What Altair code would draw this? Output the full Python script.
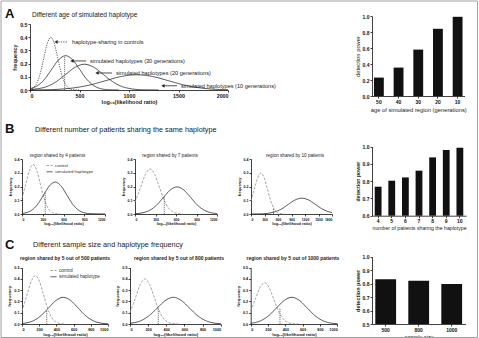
import altair as alt
import pandas as pd

FONT = "Liberation Sans"
W, H = 479, 338

# ---------------- Panel A: age of the simulated haplotype ----------------
a_ctrl_x = [0, 35, 70, 105, 140, 175, 210, 245, 280, 315, 350, 385, 420, 500]
a_ctrl_y = [0.004, 0.018, 0.054, 0.130, 0.243, 0.353, 0.400, 0.353, 0.243, 0.130, 0.054, 0.018, 0.004, 0.0]
a_g30_x = [0, 80, 150, 220, 290, 360, 430, 500, 570, 640, 710, 780, 900]
a_g30_y = [0.010, 0.035, 0.084, 0.158, 0.229, 0.260, 0.229, 0.158, 0.084, 0.035, 0.011, 0.003, 0.0]
a_g20_x = [0, 170, 265, 360, 455, 550, 645, 740, 835, 930, 1025, 1120, 1300]
a_g20_y = [0.003, 0.026, 0.063, 0.118, 0.172, 0.195, 0.172, 0.118, 0.063, 0.026, 0.009, 0.002, 0.0]
a_g10_x = [0, 120, 280, 440, 600, 760, 920, 1080, 1240, 1400, 1560, 1720, 1880, 2000]
a_g10_y = [0.000, 0.001, 0.005, 0.016, 0.037, 0.070, 0.102, 0.115, 0.102, 0.070, 0.037, 0.016, 0.005, 0.002]
a_cut = (350, 0.255)

a_note_text = ["haplotype-sharing in controls",
               "simulated haplotypes (30 generations)",
               "simulated haplotypes (20 generations)",
               "simulated haplotypes (10 generations)"]
a_note_head = [263, 424, 677, 1343]
a_note_tail = [384, 566, 828, 1485]
a_note_y = [0.364, 0.220, 0.129, 0.032]

a_age = ["50", "40", "30", "20", "10"]
a_power = [0.23, 0.355, 0.58, 0.84, 0.99]

# ---------------- Panel B: number of patients sharing ----------------
b1_ctrl_x = [0, 55, 107.5, 160, 212.5, 265, 317.5, 370, 422.5, 475, 550]
b1_ctrl_y = [0.113, 0.218, 0.318, 0.360, 0.318, 0.218, 0.117, 0.049, 0.016, 0.004, 0.0]
b1_sim_x = [0, 150, 232.5, 315, 397.5, 480, 562.5, 645, 727.5, 810, 892.5, 975, 1200]
b1_sim_y = [0.003, 0.031, 0.075, 0.141, 0.205, 0.232, 0.205, 0.141, 0.075, 0.031, 0.010, 0.003, 0.0]
b1_cut = (336, 0.158)

b2_ctrl_x = [0, 85, 152.5, 220, 287.5, 355, 422.5, 490, 557.5, 625, 700]
b2_ctrl_y = [0.087, 0.198, 0.289, 0.327, 0.289, 0.198, 0.106, 0.044, 0.014, 0.004, 0.0]
b2_sim_x = [0, 115, 215, 315, 415, 515, 615, 715, 815, 915, 1015, 1115, 1200]
b2_sim_y = [0.002, 0.009, 0.027, 0.064, 0.120, 0.174, 0.197, 0.174, 0.120, 0.064, 0.027, 0.009, 0.003]
b2_cut = (428, 0.127)

b3_ctrl_x = [0, 75, 147.5, 220, 292.5, 365, 437.5, 510, 582.5, 655, 750]
b3_ctrl_y = [0.094, 0.181, 0.263, 0.298, 0.263, 0.181, 0.097, 0.040, 0.013, 0.003, 0.0]
b3_sim_x = [0, 230, 380, 530, 680, 830, 980, 1130, 1280, 1430, 1580, 1730, 1800]
b3_sim_y = [0.000, 0.001, 0.005, 0.016, 0.037, 0.070, 0.102, 0.115, 0.102, 0.070, 0.037, 0.016, 0.010]
b3_cut = (500, 0.045)

b_patients = ["4", "5", "6", "7", "8", "9", "10"]
b_power = [0.768, 0.803, 0.822, 0.861, 0.938, 0.981, 0.994]

# ---------------- Panel C: sample size ----------------
c1_ctrl_x = [0, 60, 107.5, 155, 202.5, 250, 297.5, 345, 392.5, 440, 500]
c1_ctrl_y = [0.114, 0.261, 0.379, 0.430, 0.379, 0.261, 0.140, 0.058, 0.019, 0.005, 0.0]
c1_sim_x = [0, 140, 225, 310, 395, 480, 565, 650, 735, 820, 905, 1000]
c1_sim_y = [0.004, 0.032, 0.077, 0.144, 0.209, 0.237, 0.209, 0.144, 0.077, 0.032, 0.010, 0.002]
c1_cut = (288, 0.125)

c2_ctrl_x = [0, 65, 115, 165, 215, 265, 315, 365, 415, 465, 550]
c2_ctrl_y = [0.103, 0.243, 0.353, 0.400, 0.353, 0.243, 0.130, 0.054, 0.018, 0.004, 0.0]
c2_sim_x = [0, 128, 215.5, 303, 390.5, 478, 565.5, 653, 740.5, 828, 915.5, 1000]
c2_sim_y = [0.006, 0.032, 0.077, 0.144, 0.209, 0.237, 0.209, 0.144, 0.077, 0.032, 0.010, 0.003]
c2_cut = (312, 0.145)

c3_ctrl_x = [0, 55, 107.5, 160, 212.5, 265, 317.5, 370, 422.5, 475, 550]
c3_ctrl_y = [0.116, 0.223, 0.324, 0.367, 0.324, 0.223, 0.119, 0.050, 0.016, 0.004, 0.0]
c3_sim_x = [0, 125, 212.5, 300, 387.5, 475, 562.5, 650, 737.5, 825, 912.5, 1000]
c3_sim_y = [0.006, 0.032, 0.077, 0.144, 0.209, 0.237, 0.209, 0.144, 0.077, 0.032, 0.010, 0.003]
c3_cut = (338, 0.140)

c_size = ["500", "800", "1000"]
c_power = [0.832, 0.822, 0.797]

SERIES = ["control", "simulated haplotype"]


def curves(pairs):
    rows = []
    for name, xs, ys in pairs:
        for xv, yv in zip(xs, ys):
            rows.append({"series": name, "x": xv, "y": yv})
    return pd.DataFrame(rows)


def lin(domain, rng):
    return alt.Scale(domain=domain, range=rng, nice=False, zero=False)


def xaxis(bottom, values, title, lsize, tsize, weight="bold", fmt="d"):
    return alt.Axis(orient="bottom", offset=bottom - H, values=values, format=fmt,
                    title=title, labelFontSize=lsize, titleFontSize=tsize,
                    labelFontWeight="bold", titleFontWeight=weight, labelOverlap=False,
                    tickSize=2, labelPadding=1, titlePadding=1.5)


def yaxis(left, values, title, lsize, tsize, weight="bold"):
    return alt.Axis(orient="left", offset=-left, values=values, format=".1f",
                    title=title, labelFontSize=lsize, titleFontSize=tsize,
                    labelFontWeight="bold", titleFontWeight=weight, labelOverlap=False,
                    tickSize=2, labelPadding=1, titlePadding=2)


def density(df, xs, ys, xax, yax, names, colors, dashes, cut, legend=None):
    if legend is None:
        color = alt.Color("series:N", scale=alt.Scale(domain=names, range=colors), legend=None)
        dash = alt.StrokeDash("series:N", scale=alt.Scale(domain=names, range=dashes), legend=None)
    else:
        color = alt.Color("series:N", scale=alt.Scale(domain=names, range=colors), legend=legend)
        dash = alt.StrokeDash("series:N", scale=alt.Scale(domain=names, range=dashes), legend=legend)
    lines = alt.Chart(df).mark_line(interpolate="monotone", strokeWidth=0.8).encode(
        x=alt.X("x:Q", scale=xs, axis=xax),
        y=alt.Y("y:Q", scale=ys, axis=yax),
        color=color, strokeDash=dash,
    )
    rule = alt.Chart(pd.DataFrame({"x": [cut[0]], "y": [0.0], "y2": [cut[1]]})).mark_rule(
        strokeDash=[1.2, 0.8], strokeWidth=0.8, color="#555"
    ).encode(
        x=alt.X("x:Q", scale=xs, axis=None),
        y=alt.Y("y:Q", scale=ys, axis=None),
        y2="y2:Q",
    )
    return [lines, rule]


def small_legend(x, y, size):
    return alt.Legend(orient="none", legendX=x, legendY=y, title=None,
                      symbolType="stroke", symbolSize=36, symbolStrokeWidth=0.8,
                      labelFontSize=size, labelFont=FONT, labelColor="#333",
                      rowPadding=0.3, padding=0, labelOffset=2, symbolOffset=0)


def bars(cats, vals, xr, yr, ydom, yticks, xtitle, ttl_weight, tsize, pin, pout):
    df = pd.DataFrame({"cat": cats, "v": vals})
    xs = alt.Scale(domain=cats, range=xr, paddingInner=pin, paddingOuter=pout)
    ys = lin(ydom, yr)
    return alt.Chart(df).mark_bar(color="#111111").encode(
        x=alt.X("cat:N", sort=None, scale=xs,
                axis=alt.Axis(orient="bottom", offset=yr[0] - H, title=xtitle,
                              labelFontSize=5, titleFontSize=tsize, labelFontWeight="bold",
                              titleFontWeight="normal", tickSize=2, labelPadding=1,
                              titlePadding=2, labelAngle=0)),
        y=alt.Y("v:Q", scale=ys,
                axis=alt.Axis(orient="left", offset=-xr[0], values=yticks, format=".1f",
                              title="detection power", labelFontSize=5, titleFontSize=tsize,
                              labelFontWeight="bold", titleFontWeight=ttl_weight,
                              tickSize=2, labelPadding=1, titlePadding=2)),
        y2=alt.datum(ydom[0]),
    )


def label(text, x, y, size, weight="normal", align="left", color="#222"):
    return alt.Chart(pd.DataFrame({"t": [text]})).mark_text(
        align=align, baseline="middle", fontSize=size, fontWeight=weight, font=FONT, color=color
    ).encode(text="t:N", x=alt.value(x), y=alt.value(y))


LOG_TITLE = "log\u2081\u2080(likelihood ratio)"
layers = []

# frame around the figure
layers.append(alt.Chart(pd.DataFrame({"a": [0]})).mark_rect(
    fillOpacity=0, stroke="#a0a0a0", strokeWidth=1).encode(
    x=alt.value(1), x2=alt.value(477.5), y=alt.value(1), y2=alt.value(337.5)))

# ----- Panel A -----
a_names = ["controls", "30", "20", "10"]
a_df = curves([("controls", a_ctrl_x, a_ctrl_y), ("30", a_g30_x, a_g30_y),
               ("20", a_g20_x, a_g20_y), ("10", a_g10_x, a_g10_y)])
a_xs = lin([0, 2000], [30, 228])
a_ys = lin([0, 0.5], [90, 24])
layers += density(a_df, a_xs, a_ys,
                  xaxis(90, [0, 500, 1000, 1500, 2000], LOG_TITLE, 5.3, 5.5),
                  yaxis(30, [0, 0.1, 0.2, 0.3, 0.4, 0.5], "frequency", 5.3, 5.5),
                  a_names, ["#333333", "#222222", "#222222", "#222222"],
                  [[1.2, 1.2], [1, 0], [1, 0], [1, 0]], a_cut)

notes = pd.DataFrame({"t": a_note_text, "head": a_note_head, "tail": a_note_tail, "y": a_note_y})
notes["dash"] = ["dot", "solid", "solid", "solid"]
layers.append(alt.Chart(notes).mark_rule(strokeWidth=0.8, color="#222").encode(
    x=alt.X("head:Q", scale=a_xs, axis=None), x2="tail:Q",
    y=alt.Y("y:Q", scale=a_ys, axis=None),
    strokeDash=alt.StrokeDash("dash:N", scale=alt.Scale(domain=["dot", "solid"], range=[[1.2, 1.2], [1, 0]]), legend=None)))
layers.append(alt.Chart(notes).mark_point(shape="triangle-left", filled=True, size=14, color="#222", opacity=1).encode(
    x=alt.X("head:Q", scale=a_xs, axis=None), y=alt.Y("y:Q", scale=a_ys, axis=None)))
layers.append(alt.Chart(notes).mark_text(align="left", baseline="middle", dx=4, fontSize=5.6, font=FONT, color="#222").encode(
    x=alt.X("tail:Q", scale=a_xs, axis=None), y=alt.Y("y:Q", scale=a_ys, axis=None), text="t:N"))

layers.append(bars(a_age, a_power, [372, 464.5], [96, 16], [0, 1.0], [0, 0.2, 0.4, 0.6, 0.8, 1.0],
                   "age of simulated region (generations)", "normal", 5.8, 0.5, 0.1))

layers.append(label("A", 5, 14, 13, "bold", color="#111"))
layers.append(label("Different age of simulated haplotype", 32, 15, 6.6, color="#1a1a1a"))

# ----- Panel B -----
b_ys = lin([0, 0.4], [214, 159])
b_colors = ["#8a8a8a", "#222222"]
b_dashes = [[2.5, 1.5], [1, 0]]
b_yt = [0, 0.1, 0.2, 0.3, 0.4]
for (cx, cy, sx, sy, cut, xr, xmax, xt, leg) in [
    (b1_ctrl_x, b1_ctrl_y, b1_sim_x, b1_sim_y, b1_cut, [22, 105], 1200, [0, 300, 600, 900, 1200], small_legend(46, 162, 4.3)),
    (b2_ctrl_x, b2_ctrl_y, b2_sim_x, b2_sim_y, b2_cut, [135, 217], 1200, [0, 300, 600, 900, 1200], None),
    (b3_ctrl_x, b3_ctrl_y, b3_sim_x, b3_sim_y, b3_cut, [251, 332], 1800, [0, 300, 600, 900, 1200, 1500, 1800], None),
]:
    df = curves([("control", cx, cy), ("simulated haplotype", sx, sy)])
    layers += density(df, lin([0, xmax], xr), b_ys,
                      xaxis(214, xt, LOG_TITLE, 3.4, 3.9),
                      yaxis(xr[0], b_yt, "frequency", 3.6, 3.9),
                      SERIES, b_colors, b_dashes, cut, leg)

layers.append(bars(b_patients, b_power, [372, 466], [215.7, 146.7], [0.6, 1.0], [0.6, 0.7, 0.8, 0.9, 1.0],
                   "number of patients sharing the haplotype", "bold", 5.2, 0.5, 0.2))

layers.append(label("B", 5, 129, 13, "bold", color="#111"))
layers.append(label("Different number of patients sharing the same haplotype", 35, 130, 7.3, color="#1a1a1a"))
layers.append(label("region shared by 4 patients", 57.5, 156, 4.6, align="center"))
layers.append(label("region shared by 7 patients", 170, 156, 4.6, align="center"))
layers.append(label("region shared by 10 patients", 295, 156, 4.6, align="center"))

# ----- Panel C -----
c_ys = lin([0, 0.5], [324, 267.7])
c_yt = [0, 0.1, 0.2, 0.3, 0.4, 0.5]
c_xt = [0, 200, 400, 600, 800, 1000]
for (cx, cy, sx, sy, cut, xr, leg) in [
    (c1_ctrl_x, c1_ctrl_y, c1_sim_x, c1_sim_y, c1_cut, [22, 108], small_legend(50, 267, 4.6)),
    (c2_ctrl_x, c2_ctrl_y, c2_sim_x, c2_sim_y, c2_cut, [130, 220.7], None),
    (c3_ctrl_x, c3_ctrl_y, c3_sim_x, c3_sim_y, c3_cut, [250.7, 337.3], None),
]:
    df = curves([("control", cx, cy), ("simulated haplotype", sx, sy)])
    layers += density(df, lin([0, 1000], xr), c_ys,
                      xaxis(324, c_xt, LOG_TITLE, 3.8, 4.4),
                      yaxis(xr[0], c_yt, "frequency", 3.8, 4.4),
                      SERIES, b_colors, b_dashes, cut, leg)

layers.append(bars(c_size, c_power, [372, 465.4], [324, 256.7], [0.5, 1.0], [0.5, 0.6, 0.7, 0.8, 0.9, 1.0],
                   "sample size", "bold", 5.5, 0.37, 0.1))

layers.append(label("C", 5, 245, 13, "bold", color="#111"))
layers.append(label("Different sample size and haplotype frequency", 33, 245, 7.3, color="#1a1a1a"))
layers.append(label("region shared by 5 out of 500 patients", 65, 257.7, 5, "bold", align="center"))
layers.append(label("region shared by 5 out of 800 patients", 179, 257.7, 5, "bold", align="center"))
layers.append(label("region shared by 5 out of 1000 patients", 293, 257.7, 5, "bold", align="center"))

chart = alt.layer(*layers).resolve_scale(
    x="independent", y="independent", color="independent", strokeDash="independent"
).resolve_axis(x="independent", y="independent").resolve_legend(
    color="independent", strokeDash="independent"
).properties(
    width=W, height=H, padding=0, autosize=alt.AutoSizeParams(type="none"), background="white"
).configure_view(strokeWidth=0).configure_axis(
    grid=False, domainColor="#111", domainWidth=0.8, tickColor="#111", tickWidth=0.8,
    labelFont=FONT, titleFont=FONT, labelColor="#111", titleColor="#222"
).configure_text(font=FONT)

chart.save("out.html", embed_options={"renderer": "svg", "actions": False})
